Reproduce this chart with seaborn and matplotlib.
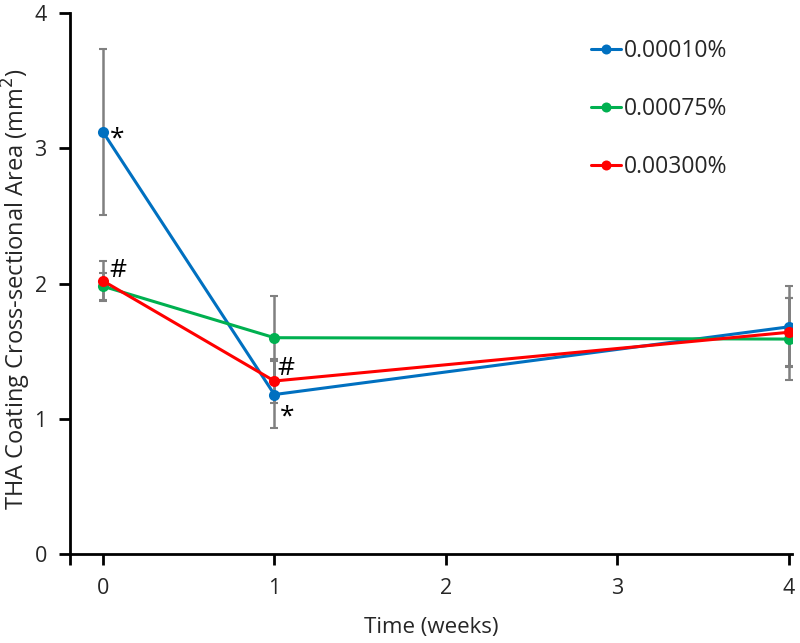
import pandas as pd
import seaborn as sns
import matplotlib.pyplot as plt

# --- data ---
weeks = [0, 1, 4]
groups = ['0.00010%', '0.00075%', '0.00300%']
area_low = [3.12, 1.18, 1.68]
area_mid = [1.98, 1.60, 1.59]
area_high = [2.02, 1.28, 1.64]
err_low = [0.61, 0.25, 0.30]
err_mid = [0.10, 0.31, 0.30]
err_high = [0.15, 0.165, 0.25]
colors = ['#0070C0', '#00B050', '#FF0000']

# significance marks: (text, x, y)
marks = [('*', 0.085, 3.07), ('#', 0.085, 2.10), ('#', 1.07, 1.37), ('*', 1.075, 1.01)]

df = pd.DataFrame({
    'Time': weeks * 3,
    'Area': area_low + area_mid + area_high,
    'Err': err_low + err_mid + err_high,
    'Group': [g for g in groups for _ in weeks],
})

sns.set_style('white')
plt.rcParams['font.family'] = ['Open Sans', 'DejaVu Sans']

fig, ax = plt.subplots(figsize=(8, 6.43), dpi=100)
fig.subplots_adjust(left=0.088, right=0.99, top=0.98, bottom=0.138)

# error bars first so lines sit on top
for g, c in zip(groups, colors):
    sub = df[df['Group'] == g]
    ax.errorbar(sub['Time'], sub['Area'], yerr=sub['Err'], fmt='none',
                ecolor='#808080', elinewidth=1.8, capsize=3, capthick=1.5, zorder=1)

sns.lineplot(data=df, x='Time', y='Area', hue='Group', palette=colors,
             marker='o', markersize=8, markeredgewidth=0, linewidth=2.2,
             ax=ax, zorder=3)

for txt, x, y in marks:
    ax.text(x, y, txt, fontsize=19, ha='center', va='center', color='black')

ax.set_xlim(-0.19, 4.02)
ax.set_ylim(0, 4)
ax.set_xticks([0, 1, 2, 3, 4])
ax.set_yticks([0, 1, 2, 3, 4])
# little stub where the y axis runs below the x axis
ax.set_xticks([-0.19], minor=True)
ax.set_xlabel('Time (weeks)', fontsize=16, labelpad=13)
ax.set_ylabel('THA Coating Cross-sectional Area (mm$^2$)', fontsize=17)
ax.yaxis.set_label_coords(-0.052, 0.49)
ax.tick_params(axis='both', which='both', labelsize=15.5, direction='out', length=8,
               width=2, color='black', bottom=True, left=True, pad=9)

for side in ['top', 'right']:
    ax.spines[side].set_visible(False)
for side in ['left', 'bottom']:
    ax.spines[side].set_color('black')
    ax.spines[side].set_linewidth(2)

leg = ax.legend(loc='upper left', bbox_to_anchor=(0.7135, 0.972),
                bbox_transform=fig.transFigure, frameon=False,
                fontsize=16.5, handlelength=1.3, handletextpad=0.1,
                labelspacing=1.5, markerscale=0.9)

plt.savefig('out.png', dpi=100)
